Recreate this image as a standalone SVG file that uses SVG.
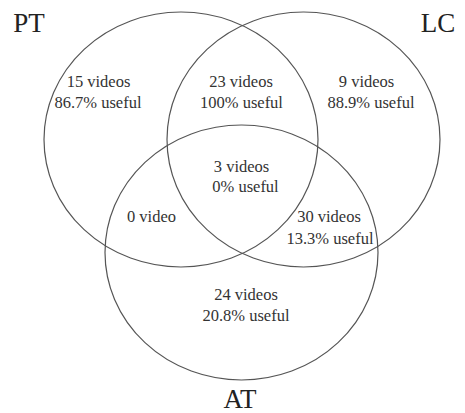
<svg xmlns="http://www.w3.org/2000/svg" width="465" height="413" viewBox="0 0 465 413">
<style>
.set{fill:none;stroke:#555;stroke-width:1.2}
.lbl{font-family:"Liberation Serif","Times New Roman",serif;font-size:16.5px;fill:#333;text-anchor:middle}
.title{font-family:"Liberation Serif","Times New Roman",serif;font-size:27px;fill:#222;text-anchor:middle}
</style>
<rect width="465" height="413" fill="#fff"/>
<g id="PT">
<ellipse class="set" cx="181" cy="139.5" rx="137" ry="127.5"/>
<text class="title" x="29" y="32">PT</text>
</g>
<g id="LC">
<ellipse class="set" cx="303.5" cy="139.5" rx="136.5" ry="127.5"/>
<text class="title" x="438" y="32">LC</text>
</g>
<g id="AT">
<ellipse class="set" cx="241.5" cy="252.5" rx="136.5" ry="127.5"/>
<text class="title" x="240" y="408">AT</text>
</g>
<g id="region-PT-only">
<text class="lbl" x="98.5" y="87">15 videos</text>
<text class="lbl" x="98" y="108">86.7% useful</text>
</g>
<g id="region-PT-LC">
<text class="lbl" x="241" y="87">23 videos</text>
<text class="lbl" x="241.5" y="108">100% useful</text>
</g>
<g id="region-LC-only">
<text class="lbl" x="366.5" y="87">9 videos</text>
<text class="lbl" x="371" y="108">88.9% useful</text>
</g>
<g id="region-all">
<text class="lbl" x="241.5" y="172">3 videos</text>
<text class="lbl" x="245.5" y="192">0% useful</text>
</g>
<g id="region-PT-AT">
<text class="lbl" x="151.5" y="222">0 video</text>
</g>
<g id="region-LC-AT">
<text class="lbl" x="329" y="222">30 videos</text>
<text class="lbl" x="330" y="244">13.3% useful</text>
</g>
<g id="region-AT-only">
<text class="lbl" x="246" y="300">24 videos</text>
<text class="lbl" x="246" y="321">20.8% useful</text>
</g>
<g id="connectors"/>
</svg>
